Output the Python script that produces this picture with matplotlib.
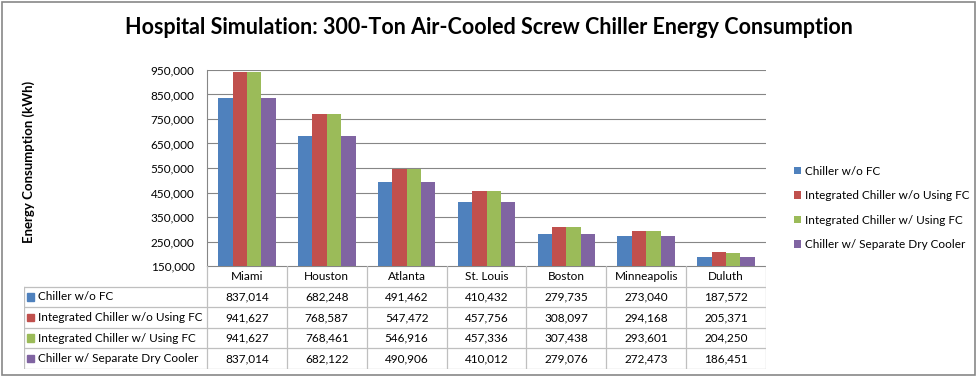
import numpy as np
import matplotlib.pyplot as plt
from matplotlib.patches import Rectangle
from matplotlib.ticker import FuncFormatter

cities = ['Miami', 'Houston', 'Atlanta', 'St. Louis', 'Boston', 'Minneapolis', 'Duluth']
series = ['Chiller w/o FC', 'Integrated Chiller w/o Using FC',
          'Integrated Chiller w/ Using FC', 'Chiller w/ Separate Dry Cooler']
chiller_no_fc = [837014, 682248, 491462, 410432, 279735, 273040, 187572]
integ_no_fc = [941627, 768587, 547472, 457756, 308097, 294168, 205371]
integ_fc = [941627, 768461, 546916, 457336, 307438, 293601, 204250]
sep_dry = [837014, 682122, 490906, 410012, 279076, 272473, 186451]
values = [chiller_no_fc, integ_no_fc, integ_fc, sep_dry]
y_ticks = [150000, 250000, 350000, 450000, 550000, 650000, 750000, 850000, 950000]
colors = ['#4F81BD', '#C0504D', '#9BBB59', '#8064A2']

W, H = 977, 377
FONT = 'Lato'
FS = 8.5
plt.rcParams['font.family'] = [FONT, 'DejaVu Sans']

fig = plt.figure(figsize=(W / 100, H / 100), dpi=100)

def px(x0, y0, x1, y1):
    # pixel box (top-left origin) -> figure fraction rect
    return [x0 / W, 1 - y1 / H, (x1 - x0) / W, (y1 - y0) / H]

# outer chart border
fig.patches.append(Rectangle((1.5 / W, 1 - 375 / H), 973 / W, 373.5 / H,
                             transform=fig.transFigure, fill=False,
                             edgecolor='#878787', lw=1.2))

fig.text(489 / W, 1 - 28 / H,
         'Hospital Simulation: 300-Ton Air-Cooled Screw Chiller Energy Consumption',
         ha='center', va='center', fontsize=15.5, fontweight='bold')
fig.text(29 / W, 1 - 162 / H, 'Energy Consumption (kWh)', rotation=90,
         ha='center', va='center', fontsize=9.5, fontweight='bold')

# bar chart
ax = fig.add_axes(px(207, 70, 766, 266))
x = np.arange(len(cities))
bw = 0.18
for i, (vals, col, name) in enumerate(zip(values, colors, series)):
    ax.bar(x + (i - 1.5) * bw, vals, width=bw, color=col, label=name, zorder=3)
ax.set_xlim(-0.5, len(cities) - 0.5)
ax.set_ylim(y_ticks[0], y_ticks[-1])
ax.set_yticks(y_ticks)
ax.yaxis.set_major_formatter(FuncFormatter(lambda v, p: f'{int(v):,}'))
ax.grid(axis='y', color='#868686', lw=0.8, zorder=0)
ax.set_xticks([])
for s in ['top', 'right', 'bottom']:
    ax.spines[s].set_visible(False)
ax.spines['left'].set_color('#868686')
ax.tick_params(axis='y', length=0, pad=9, labelsize=FS)

ax.legend(loc='center left', bbox_to_anchor=(783 / W, 1 - 208 / H),
          bbox_transform=fig.transFigure, frameon=False, fontsize=FS,
          handlelength=0.6, handleheight=0.6, handletextpad=0.4, labelspacing=1.15)

# data table under the axis
tx0, tx1, ty0, ty1 = 24, 766, 266, 369
tab = fig.add_axes(px(tx0, ty0, tx1, ty1))
cw = (766 - 207) / len(cities)
left = -0.5 - (207 - tx0) / cw
tab.set_xlim(left, len(cities) - 0.5)
nrows = len(series) + 1
tab.set_ylim(nrows, 0)
tab.axis('off')
lc = '#BFBFBF'
# horizontal lines
tab.plot([-0.5, len(cities) - 0.5], [0, 0], color='#868686', lw=0.8)
for r in range(1, nrows + 1):
    tab.plot([left, len(cities) - 0.5], [r, r], color=lc, lw=0.9)
# vertical lines
tab.plot([-0.5, -0.5], [0, nrows], color=lc, lw=0.9)
tab.plot([left, left], [1, nrows], color=lc, lw=0.9)
for c in range(len(cities)):
    tab.plot([c + 0.5, c + 0.5], [0, nrows], color=lc, lw=0.9)
for c, city in enumerate(cities):
    tab.text(c, 0.5, city, ha='center', va='center', fontsize=FS)
for r, (vals, col, name) in enumerate(zip(values, colors, series)):
    tab.add_patch(Rectangle((left + 0.04, r + 1.5 - 0.18), 0.085, 0.36, color=col))
    tab.text(left + 0.17, r + 1.5, name, ha='left', va='center', fontsize=FS)
    for c, v in enumerate(vals):
        tab.text(c, r + 1.5, f'{v:,}', ha='center', va='center', fontsize=FS)

fig.savefig('out.png', dpi=100)
